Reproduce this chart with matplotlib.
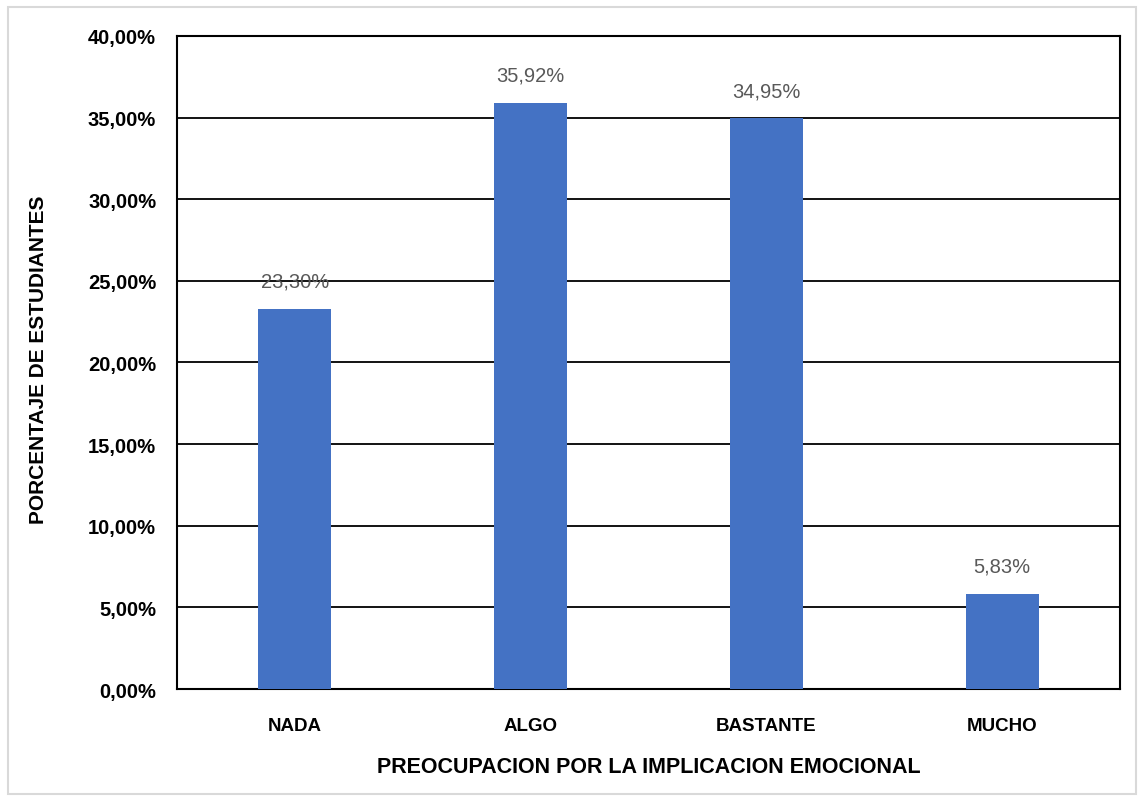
import matplotlib.pyplot as plt
from matplotlib.patches import Rectangle
from matplotlib.ticker import FuncFormatter
import numpy as np

categories = ['NADA', 'ALGO', 'BASTANTE', 'MUCHO']
values = [23.30, 35.92, 34.95, 5.83]
yticks = [0, 5, 10, 15, 20, 25, 30, 35, 40]

plt.rcParams['font.family'] = ['Liberation Sans', 'DejaVu Sans']

fig = plt.figure(figsize=(11.44, 8.03), dpi=100)
ax = fig.add_axes([0.1547, 0.1407, 0.8243, 0.8133])

# light gray frame around the whole chart
fig.patches.append(Rectangle((8 / 1144, 8 / 803), 1 - 16 / 1144, 1 - 16 / 803,
                             transform=fig.transFigure, fill=False,
                             edgecolor='#d9d9d9', linewidth=1.5))

x = np.arange(len(categories))
ax.set_axisbelow(True)
ax.yaxis.grid(True, color='black', linewidth=1.3)
bars = ax.bar(x, values, width=0.31, color='#4472C4', zorder=3)

for xi, v in zip(x, values):
    ax.text(xi, v + 1.1, f'{v:.2f}%'.replace('.', ','), ha='center', va='bottom',
            fontsize=14.5, color='#595959')

ax.set_xlim(-0.5, len(categories) - 0.5)
ax.set_ylim(0, 40)
ax.set_yticks(yticks)
ax.yaxis.set_major_formatter(FuncFormatter(lambda v, p: f'{v:.2f}%'.replace('.', ',')))
ax.set_xticks(x)
ax.set_xticklabels(categories)
ax.tick_params(length=0, labelsize=13.5, pad=12)
ax.tick_params(axis='y', labelsize=14.5, pad=15)
for lab in ax.get_xticklabels() + ax.get_yticklabels():
    lab.set_fontweight('bold')
ax.tick_params(axis='x', pad=20)

for s in ax.spines.values():
    s.set_color('black')
    s.set_linewidth(1.5)

ax.set_xlabel('PREOCUPACION POR LA IMPLICACION EMOCIONAL', fontsize=15.5,
              fontweight='bold', va='center')
ax.xaxis.set_label_coords(0.5, -0.118)
ax.set_ylabel('PORCENTAJE DE ESTUDIANTES', fontsize=15, fontweight='bold',
              va='center')
ax.yaxis.set_label_coords(-0.147, 0.505)

plt.savefig('out.png', dpi=100)
